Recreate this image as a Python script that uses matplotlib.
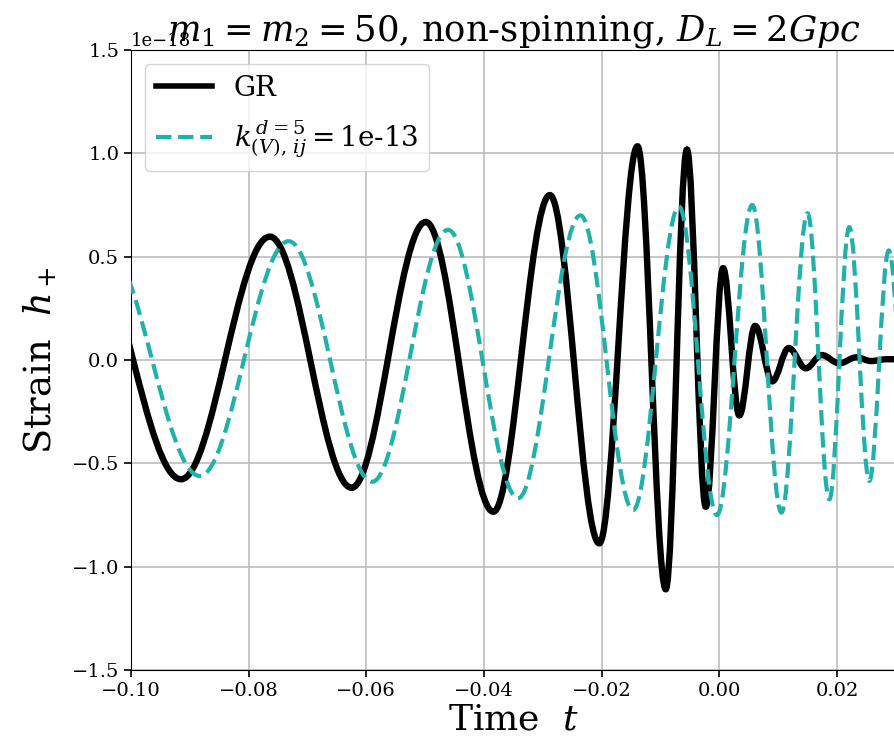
import numpy as np
import matplotlib
matplotlib.use("Agg")
import matplotlib.pyplot as plt
from matplotlib.path import Path
from matplotlib.patches import PathPatch
from matplotlib.lines import Line2D

# ---------------------------------------------------------------------------
# Waveform extrema (time in s, strain in units of 1e-18)
# first/last entries sit just outside the visible window so the curve runs
# into the frame edges
# ---------------------------------------------------------------------------
gr_t = [-0.1078, -0.0915, -0.0764, -0.0625, -0.0499, -0.0384, -0.0288,
        -0.0204, -0.0139, -0.0091, -0.0055, -0.0023, 0.00065, 0.0034,
        0.0061, 0.0090, 0.0118, 0.0147, 0.0174, 0.0204, 0.0233, 0.0258,
        0.0285, 0.0310]
gr_h = [0.58, -0.577, 0.597, -0.618, 0.668, -0.734, 0.798,
        -0.887, 1.034, -1.109, 1.018, -0.71, 0.444, -0.268,
        0.165, -0.103, 0.058, -0.040, 0.024, -0.016, 0.013, -0.005,
        0.004, 0.003]

liv_t = [-0.1045, -0.0883, -0.0732, -0.0590, -0.0461, -0.0342, -0.0236,
         -0.01465, -0.00685, -0.0004, 0.0056, 0.01056, 0.0150, 0.0187,
         0.0221, 0.0255, 0.0288, 0.0322]
liv_h = [0.56, -0.561, 0.575, -0.589, 0.630, -0.669, 0.70,
         -0.726, 0.742, -0.75, 0.75, -0.738, 0.71, -0.674,
         0.643, -0.585, 0.53, -0.5]

SCALE = 1e-18
TEAL = "#20b2aa"

plt.rcParams["font.family"] = "serif"
plt.rcParams["font.serif"] = ["DejaVu Serif"]
plt.rcParams["mathtext.fontset"] = "dejavuserif"


def _wave_path(ts, hs):
    """Smooth path through the extrema: cubic segments with flat tangents."""
    k = 0.363  # gives a near-sinusoidal half cycle between two extrema
    verts = [(ts[0], hs[0] * SCALE)]
    codes = [Path.MOVETO]
    for (t0, h0), (t1, h1) in zip(zip(ts[:-1], hs[:-1]), zip(ts[1:], hs[1:])):
        dt = t1 - t0
        verts += [(t0 + k * dt, h0 * SCALE), (t1 - k * dt, h1 * SCALE),
                  (t1, h1 * SCALE)]
        codes += [Path.CURVE4] * 3
    return Path(verts, codes)


fig = plt.figure(figsize=(8.94, 7.42), dpi=100)
ax = fig.add_axes([0.1465, 0.097, 0.8555, 0.8356])

ax.add_patch(PathPatch(_wave_path(gr_t, gr_h), fill=False,
                       edgecolor="black", linewidth=4.6, zorder=3))
ax.add_patch(PathPatch(_wave_path(liv_t, liv_h), fill=False,
                       edgecolor=TEAL, linewidth=3, linestyle="--", zorder=4))

ax.set_xlim(-0.10, 0.03)
ax.set_ylim(-1.5e-18, 1.5e-18)
ax.set_xticks(np.arange(-0.10, 0.021, 0.02))
ax.set_yticks(np.arange(-1.5, 1.51, 0.5) * SCALE)
ax.grid(True, color="#bdbdbd", linewidth=1.2)
ax.set_axisbelow(True)
ax.tick_params(labelsize=14, width=1.2, length=5)
ax.yaxis.get_offset_text().set_fontsize(13)

ax.set_xlabel(r"Time  $t$", fontsize=26, labelpad=2)
ax.set_ylabel(r"Strain  $h_+$", fontsize=26.5, labelpad=9)
# fixed y so the title sits low, overlapping the offset text as in the original
ax.set_title(r"$m_1 = m_2 = 50$, non-spinning, $D_L = 2Gpc$",
             fontsize=25.5, y=1.015, pad=0)

handles = [Line2D([], [], color="black", linewidth=4),
           Line2D([], [], color=TEAL, linewidth=3, linestyle="--")]
labels = ["GR", r"$k^{\,d=5}_{(V),\,ij} = $1e-13"]
ax.legend(handles, labels, loc="upper left", fontsize=20, framealpha=0.8,
          labelspacing=0.6)

fig.savefig("out.png", dpi=100)
